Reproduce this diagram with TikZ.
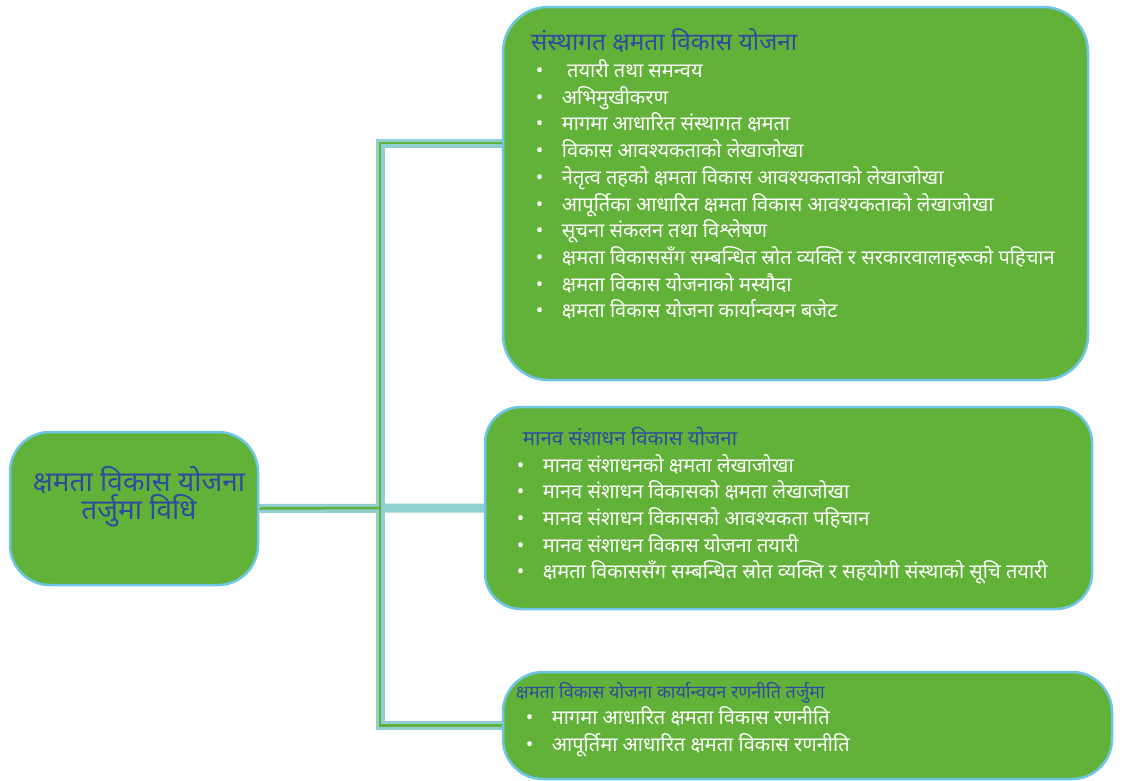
\documentclass[tikz,border=0pt]{standalone}
\usepackage{fontspec}
\newfontfamily\deva[Script=Devanagari]{Noto Sans}
\usetikzlibrary{positioning, backgrounds}
\definecolor{boxgreen}{HTML}{62B23A}
\definecolor{boxrim}{HTML}{6EC6E6}
\definecolor{linkteal}{HTML}{8FD0D0}
\definecolor{titleblue}{HTML}{2E4C9E}
\tikzset{
  planbox/.style={draw=boxrim, line width=2.5pt, fill=boxgreen, inner sep=0pt},
  listtext/.style={align=left, text=white, inner sep=0pt, anchor=north west,
    font={\deva\fontsize{20}{26.7}\selectfont}},
  linkouter/.style={draw=linkteal, line width=9pt},
  linkinner/.style={draw=boxgreen, line width=2.5pt},
}
\newcommand{\itm}[1]{\makebox[26pt][l]{\textbullet}#1}
\newcommand{\hd}[2]{{\fontsize{#1}{26.7}\selectfont\textcolor{titleblue}{#2}}}

\begin{document}
\begin{tikzpicture}[x=1pt,y=-1pt]
  \useasboundingbox (0,0) rectangle (1123,780);
  % boxes
  \node[planbox,rounded corners=40pt,minimum width=248pt,minimum height=153pt](vidhi) at (134,508.5){};
  \node[planbox,rounded corners=45pt,minimum width=585pt,minimum height=373pt](sanstha) at (795.5,193.5){};
  \node[planbox,rounded corners=36pt,minimum width=607pt,minimum height=202pt](manav) at (788.5,508){};
  \node[planbox,rounded corners=40pt,minimum width=609pt,minimum height=107pt](karya) at (807.5,725.5){};
  \coordinate (fork) at (380,508);
  \coordinate (sanstha-in) at ([yshift=50.5pt]sanstha.west);
  % connectors
  \begin{scope}[on background layer]
    \draw[linkouter](sanstha-in) -| (fork) |- (karya.west);
    \draw[linkouter](vidhi.east) -- (manav.west);
    \draw[linkinner](sanstha-in) -| (fork) |- (karya.west);
    \draw[linkinner](vidhi.east) -- (fork);
  \end{scope}
  % texts
  \node[align=center,inner sep=0pt,text=titleblue,font={\deva\fontsize{28}{28}\selectfont}](vidhi-txt) at (139,497){क्षमता विकास योजना\\तर्जुमा विधि};
  \node[listtext](sanstha-txt) at ([xshift=29pt,yshift=-23pt]sanstha.north west){%
    \hd{24.4}{संस्थागत क्षमता विकास योजना}\\
    \hspace*{5pt}\itm{\ तयारी तथा समन्वय}\\
    \hspace*{5pt}\itm{अभिमुखीकरण}\\
    \hspace*{5pt}\itm{मागमा आधारित संस्थागत क्षमता}\\
    \hspace*{5pt}\itm{विकास आवश्यकताको लेखाजोखा}\\
    \hspace*{5pt}\itm{नेतृत्व तहको क्षमता विकास आवश्यकताको लेखाजोखा}\\
    \hspace*{5pt}\itm{आपूर्तिका आधारित क्षमता विकास आवश्यकताको लेखाजोखा}\\
    \hspace*{5pt}\itm{सूचना संकलन तथा विश्लेषण}\\
    \hspace*{5pt}\itm{क्षमता विकाससँग सम्बन्धित स्रोत व्यक्ति र सरकारवालाहरूको पहिचान}\\
    \hspace*{5pt}\itm{क्षमता विकास योजनाको मस्यौदा}\\
    \hspace*{5pt}\itm{क्षमता विकास योजना कार्यान्वयन बजेट}};
  \node[listtext](manav-txt) at ([xshift=33pt,yshift=-21pt]manav.north west){%
    \hspace*{6pt}\hd{20.5}{मानव संशाधन विकास योजना}\\
    \itm{मानव संशाधनको क्षमता लेखाजोखा}\\
    \itm{मानव संशाधन विकासको क्षमता लेखाजोखा}\\
    \itm{मानव संशाधन विकासको आवश्यकता पहिचान}\\
    \itm{मानव संशाधन विकास योजना तयारी}\\
    \itm{क्षमता विकाससँग सम्बन्धित स्रोत व्यक्ति र सहयोगी संस्थाको सूचि तयारी}};
  \node[listtext](karya-txt) at ([xshift=14pt,yshift=-11pt]karya.north west){%
    \hd{18}{क्षमता विकास योजना कार्यान्वयन रणनीति तर्जुमा}\\
    \hspace*{10pt}\itm{मागमा आधारित क्षमता विकास रणनीति}\\
    \hspace*{10pt}\itm{आपूर्तिमा आधारित क्षमता विकास रणनीति}};
\end{tikzpicture}
\end{document}
